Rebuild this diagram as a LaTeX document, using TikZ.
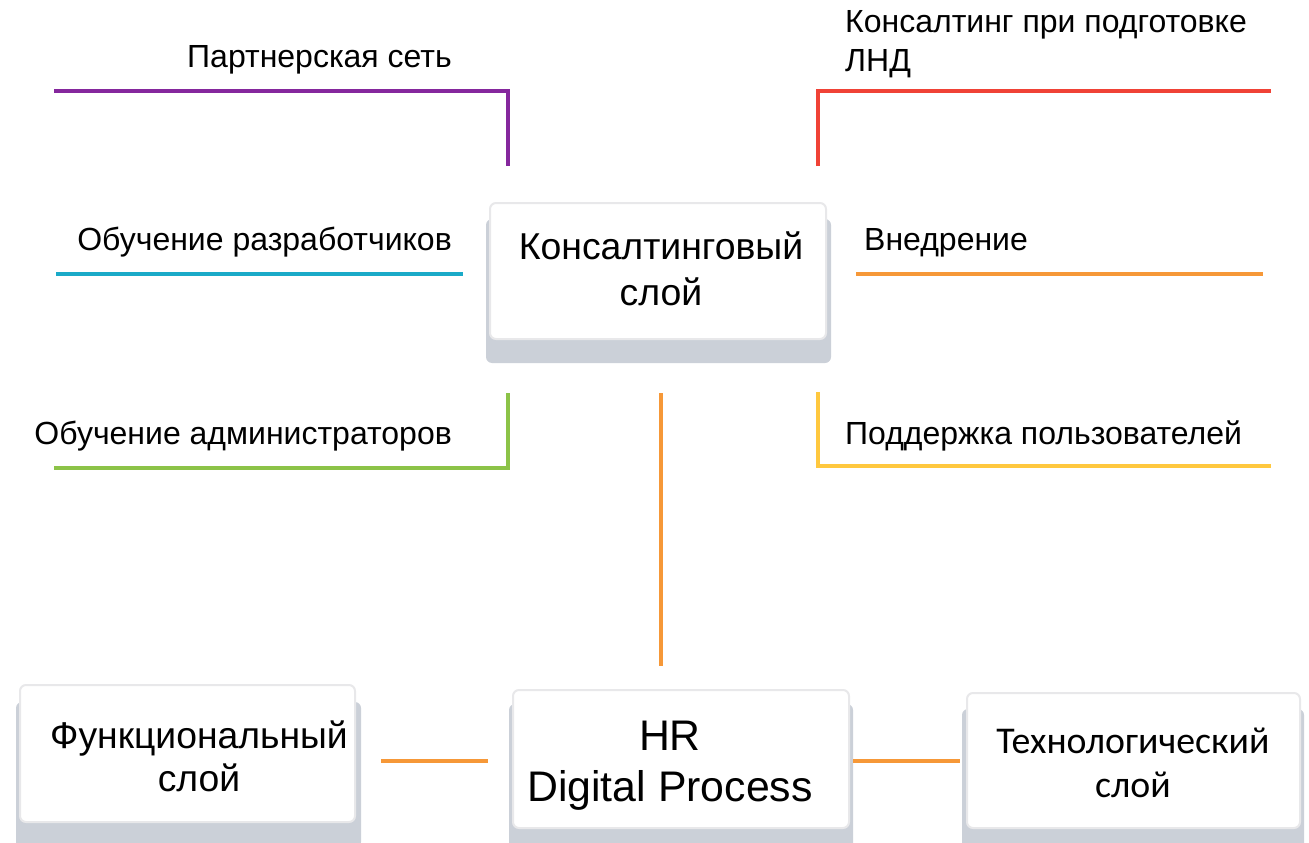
\documentclass[tikz,border=0pt]{standalone}
\usepackage{fontspec}
\setmainfont{Liberation Sans}
\newfontfamily\carl{Carlito}
\usetikzlibrary{backgrounds}
\definecolor{cpurple}{RGB}{133,39,157}
\definecolor{cred}{RGB}{240,66,54}
\definecolor{ccyan}{RGB}{26,170,200}
\definecolor{corange}{RGB}{246,152,56}
\definecolor{cgreen}{RGB}{140,195,72}
\definecolor{cyellow}{RGB}{255,200,62}
\definecolor{shadowgray}{RGB}{203,208,216}
\definecolor{boxborder}{RGB}{232,232,234}
\tikzset{
  layerbox/.style={draw=boxborder, line width=2pt, fill=white, rounded corners=6pt, inner sep=0pt},
  lead/.style={line width=3.5pt},
  lbl/.style={font=\fontsize{32}{39}\selectfont, inner sep=0pt},
  boxtext/.style={align=center, inner sep=0pt},
  shadowfill/.style={fill=shadowgray, rounded corners=6pt}
}
\begin{document}
\begin{tikzpicture}[x=1pt,y=-1pt]
\useasboundingbox (0,0) rectangle (1309,843);
% boxes
\node[layerbox, minimum width=336pt, minimum height=136pt] (k) at (658,271) {};
\node[layerbox, minimum width=335pt, minimum height=137pt] (f) at (187.5,753.5) {};
\node[layerbox, minimum width=336pt, minimum height=138pt] (h) at (681,759) {};
\node[layerbox, minimum width=333pt, minimum height=135pt] (t) at (1133.5,760.5) {};
\begin{scope}[on background layer]
\fill[shadowfill] ([xshift=-3pt,yshift=-17pt]k.north west) rectangle ([xshift=4pt,yshift=-23pt]k.south east);
\fill[shadowfill] ([xshift=-3pt,yshift=-18pt]f.north west) rectangle ([xshift=5pt,yshift=-25pt]f.south east);
\fill[shadowfill] ([xshift=-3pt,yshift=-15pt]h.north west) rectangle ([xshift=3pt,yshift=-20pt]h.south east);
\fill[shadowfill] ([xshift=-4pt,yshift=-17pt]t.north west) rectangle ([xshift=3pt,yshift=-20pt]t.south east);
\end{scope}
% box texts
\node[boxtext, font=\fontsize{37.4}{46}\selectfont] (kt) at (661,269) {Консалтинговый\\слой};
\node[boxtext, font=\fontsize{37.3}{43}\selectfont] (ft) at (199,756) {Функциональный\\слой};
\node[boxtext, font=\fontsize{42.8}{51}\selectfont] (ht) at (670,766) {HR\\Digital Process};
\node[boxtext, font=\carl\fontsize{37.8}{44}\selectfont] (tt) at (1133,763) {Технологический\\слой};
% labels
\node[lbl, anchor=base east] (l1) at (452,67) {Партнерская сеть};
\node[lbl, anchor=base east] (l2) at (452,250) {Обучение разработчиков};
\node[lbl, anchor=base east] (l3) at (452,444) {Обучение администраторов};
\node[lbl, anchor=base west, align=left] (r1) at (845,71) {Консалтинг при подготовке\\ЛНД};
\node[lbl, anchor=base west] (r2) at (864,250) {Внедрение};
\node[lbl, anchor=base west] (r3) at (845,444) {Поддержка пользователей};
% lead lines
\coordinate (p1) at (54,91); \coordinate (p2) at (508,91); \coordinate (p3) at (508,166);
\draw[lead, cpurple] (p1) -- (p2) -- (p3);
\coordinate (q1) at (818,166); \coordinate (q2) at (818,91); \coordinate (q3) at (1271,91);
\draw[lead, cred] (q1) -- (q2) -- (q3);
\coordinate (c1) at (56,274); \coordinate (c2) at (463,274);
\draw[lead, ccyan] (c1) -- (c2);
\coordinate (o1) at (856,274); \coordinate (o2) at (1263,274);
\draw[lead, corange] (o1) -- (o2);
\coordinate (g1) at (508,393); \coordinate (g2) at (508,468); \coordinate (g3) at (54,468);
\draw[lead, cgreen] (g1) -- (g2) -- (g3);
\coordinate (y1) at (818,392); \coordinate (y2) at (818,466); \coordinate (y3) at (1271,466);
\draw[lead, cyellow] (y1) -- (y2) -- (y3);
% connectors between layers
\coordinate (v1) at (661,393); \coordinate (v2) at (661,666);
\draw[lead, corange] (v1) -- (v2);
\coordinate (a1) at (381,761); \coordinate (a2) at (488,761);
\draw[lead, corange] (a1) -- (a2);
\coordinate (b1) at (853,761); \coordinate (b2) at (960,761);
\draw[lead, corange] (b1) -- (b2);
\end{tikzpicture}
\end{document}
